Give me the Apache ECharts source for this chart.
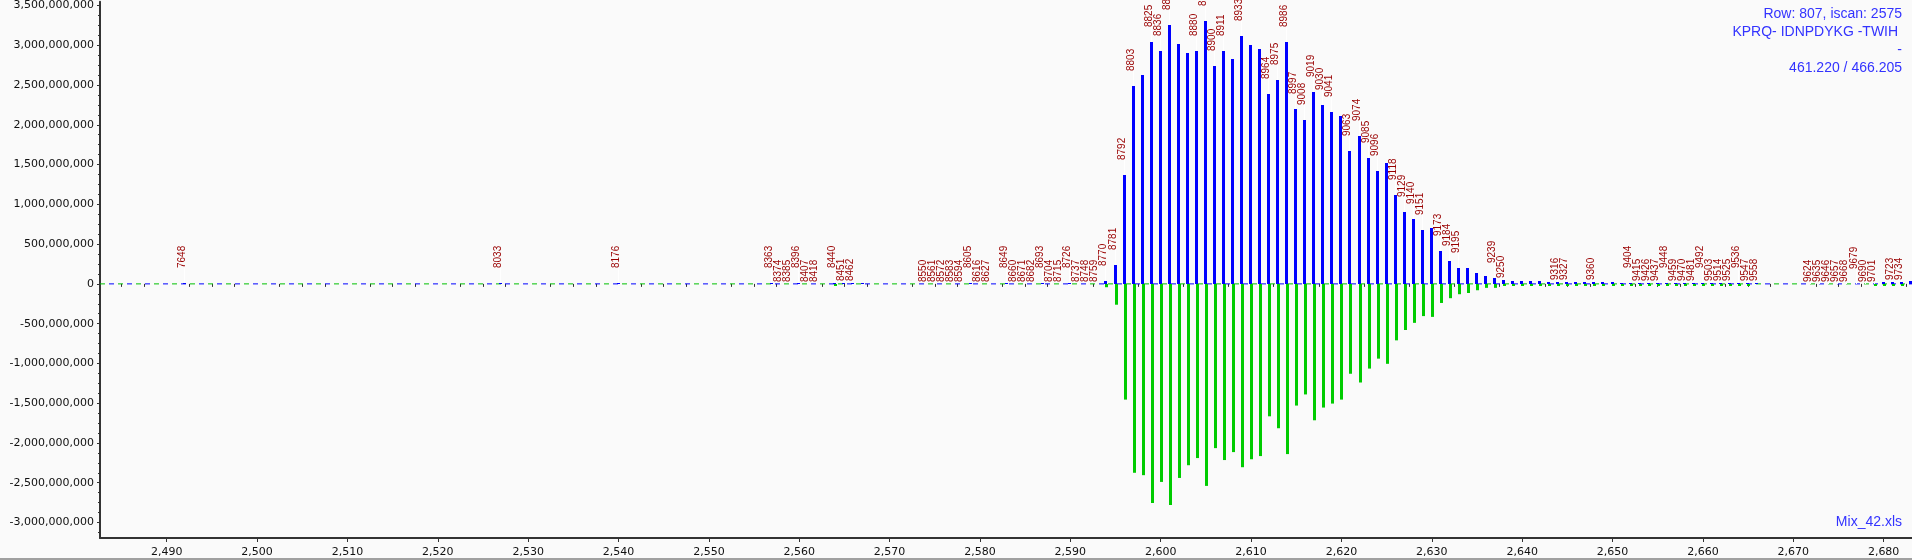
<!DOCTYPE html>
<html><head><meta charset="utf-8">
<script src="https://cdn.jsdelivr.net/npm/echarts@6/dist/echarts.min.js"></script>
<style>html,body{margin:0;padding:0;background:#fafafa;overflow:hidden}#c{width:1912px;height:560px}</style>
</head><body><div id="c"></div>
<script>
// ---- data (intensities in millions) ----
const UNIT = 1e6;
const times = [2492, 2527, 2540,
  2557,2558,2559,2560,2561,2562,2563,2564,2565,2566,2567,2568,2569,2570,2571,2572,2573,2574,2575,2576,2577,2578,2579,2580,2581,2582,2583,2584,2585,2586,2587,2588,2589,2590,2591,2592,2593,
  2594,2595,2596,2597,2598,2599,2600,2601,2602,2603,2604,2605,2606,2607,2608,2609,2610,2611,2612,2613,2614,2615,2616,2617,2618,2619,2620,2621,2622,2623,2624,2625,2626,2627,2628,2629,2630,2631,2632,2633,2634,2635,2636,2637,2638,2639,2640,2641,2642,2643,2644,2645,2646,2647,2648,2649,2650,2651,2652,2653,2654,2655,2656,2657,2658,2659,2660,2661,2662,2663,2664,2665,2666,2667,2668,2669,2670,2671,2672,2673,2674,2675,2676,2677,2678,2679,2680,2681,2682,2683];
const lightIntensity = [2, 2, 2,
  4,0,0,4,0,0,0,12,8,8,6,0,0,0,0,0,0,0,0,0,0,0,4,0,0,0,4,0,0,0,4,0,0,4,0,0,0,
  41,240,1370,2490,2630,3040,2925,3250,3010,2900,2930,3300,2740,2930,2830,3120,3000,2955,2390,2560,3040,2200,2055,2415,2250,2165,2105,1675,1865,1580,1415,1515,1115,900,810,675,705,410,290,205,195,135,95,77,55,41,33,30,30,28,28,25,22,20,20,18,18,15,15,15,12,12,12,10,10,10,10,8,8,8,8,6,6,0,0,0,0,0,0,0,0,0,0,0,0,0,20,20,25,35];
const heavyIntensity = [0, 0, 0,
  0,0,0,0,0,0,0,-10,0,0,0,0,0,0,0,0,0,0,0,0,0,0,0,0,0,0,0,0,0,0,0,0,0,0,0,0,0,
  -42,-262,-1455,-2375,-2405,-2755,-2490,-2780,-2440,-2280,-2190,-2540,-2065,-2215,-2115,-2305,-2205,-2165,-1665,-1815,-2140,-1530,-1390,-1715,-1555,-1505,-1455,-1130,-1240,-1065,-940,-1005,-710,-580,-490,-405,-415,-240,-180,-130,-115,-80,-50,-50,-25,-25,-22,-20,-20,-20,-20,-18,-18,-18,-15,-15,-15,-15,-15,-15,-15,-12,-12,-12,-12,-12,-12,-12,-10,-10,-10,-10,0,0,0,0,0,0,0,0,0,0,0,0,0,-15,-15,-15,-15];
const scanLabels = ['7648','8033','8176',
  '8363','8374','8385','8396','8407','8418','','8440','8451','8462','','','','','','','','8550','8561','8572','8583','8594','8605','8616','8627','','8649','8660','8671','8682','8693','8704','8715','8726','8737','8748','8759',
  '8770','8781','8792','8803','','8825','8836','8847','','','8880','8891','8900','8911','','8933','','','8964','8975','8986','8997','9008','9019','9030','9041','','9063','9074','9085','9096','','9118','9129','9140','9151','','9173','9184','9195','','','','9239','9250','','','','','','9316','9327','','','9360','','','','9404','9415','9426','9437','9448','9459','9470','9481','9492','9503','9514','9525','9536','9547','9558','','','','','','9624','9635','9646','9657','9668','9679','9690','9701','','9723','9734',''];
const raisedLabels = ['7648','8033','8176','8363','8396','8440','8605','8649','8693','8726','8770',
  '8781','8792','8803','8825','8836','8847','8880','8891','8900','8911','8933','8964','8975','8986','8997','9008','9019','9030','9041','9063','9074','9085','9096','9118','9129','9140','9151','9173','9184','9195','9239',
  '9404','9448','9492','9536','9679'];
const xTickLabels = [2490,2500,2510,2520,2530,2540,2550,2560,2570,2580,2590,2600,2610,2620,2630,2640,2650,2660,2670,2680];
const yTickLabels = [-3000,-2500,-2000,-1500,-1000,-500,0,500,1000,1500,2000,2500,3000,3500];
const infoLines = ['Row: 807, iscan: 2575', 'KPRQ- IDNPDYKG -TWIH ', '-', '461.220 / 466.205'];
const fileName = 'Mix_42.xls';

// ---- layout ----
const xMin = 2482.62, xMax = 2683.14;
const yMin = -3195 * UNIT, yMax = 3547 * UNIT;
const xMinor = []; for (let v = 2485; v <= 2682.5; v += 2.5) if (v % 10 !== 0) xMinor.push(v);
const yMajor = yTickLabels.map(v => v * UNIT);
const yMinor = []; for (let v = -3125; v <= 3500; v += 125) if (v % 500 !== 0) yMinor.push(v * UNIT);

const data = times.map((t, i) => [t, lightIntensity[i] * UNIT, heavyIntensity[i] * UNIT]);
const labelFont = '10px "Liberation Sans", Arial, sans-serif';

function renderPeak(params, api) {
  const i = params.dataIndex;
  const t = api.value(0), up = api.value(1), down = api.value(2);
  const base = api.coord([t, 0]);
  const cx = Math.round(base[0]);
  const y0 = Math.round(base[1]);
  const kids = [];
  if (down < 0) {
    const yg = api.coord([t, down])[1];
    kids.push({type: 'rect', shape: {x: cx - 1, y: y0, width: 3, height: Math.max(2, yg - y0)}, style: {fill: '#00cc00'}});
  }
  let top = y0;
  if (up > 0) {
    const yb = Math.round(api.coord([t, up])[1]);
    top = Math.min(yb, y0 - 1);
    if (y0 - top >= 1) kids.push({type: 'rect', shape: {x: cx - 2, y: top, width: 3, height: y0 - top}, style: {fill: '#0000ff'}});
  }
  const text = scanLabels[i];
  if (text) {
    const gap = raisedLabels.includes(text) ? 15 : 2;
    kids.push({type: 'line', shape: {x1: cx - 0.5, y1: top, x2: cx - 0.5, y2: top - gap}, style: {stroke: '#ffffff', lineWidth: 1}});
    kids.push({type: 'text', x: cx - 2.5, y: top - gap, rotation: Math.PI / 2,
      style: {text: text, font: labelFont, fill: '#990000', align: 'left', verticalAlign: 'middle'}});
  }
  return {type: 'group', children: kids};
}

const axisColor = '#333333';
const tickFont = {fontFamily: '"DejaVu Sans", Verdana, sans-serif', fontSize: 11, color: '#101010'};
const chart = echarts.init(document.getElementById('c'), null, {renderer: 'canvas'});
chart.setOption({
  backgroundColor: '#fafafa',
  animation: false,
  grid: {left: 100, right: 0, top: 0, bottom: 22, containLabel: false},
  xAxis: [{
    type: 'value', min: xMin, max: xMax,
    axisLine: {show: true, onZero: false, lineStyle: {color: axisColor, width: 2}},
    axisTick: {show: true, length: 4, customValues: xTickLabels, lineStyle: {color: axisColor}},
    axisLabel: {customValues: xTickLabels, margin: 9, formatter: v => v.toLocaleString('en-US'), ...tickFont},
    splitLine: {show: false}
  }, {
    type: 'value', min: xMin, max: xMax, position: 'bottom',
    axisLine: {show: false},
    axisTick: {show: true, length: 3, customValues: xMinor, lineStyle: {color: axisColor}},
    axisLabel: {show: false}, splitLine: {show: false}
  }],
  yAxis: [{
    type: 'value', min: yMin, max: yMax,
    axisLine: {show: true, onZero: false, lineStyle: {color: axisColor, width: 2}},
    axisTick: {show: true, length: 3, customValues: yMajor, lineStyle: {color: axisColor}},
    axisLabel: {customValues: yMajor, margin: 6, formatter: v => v.toLocaleString('en-US'), ...tickFont},
    splitLine: {show: false}
  }, {
    type: 'value', min: yMin, max: yMax, position: 'left',
    axisLine: {show: false},
    axisTick: {show: true, length: 2, customValues: yMinor, lineStyle: {color: axisColor}},
    axisLabel: {show: false}, splitLine: {show: false}
  }],
  series: [{
    type: 'line', xAxisIndex: 0, yAxisIndex: 0, silent: true, symbol: 'none',
    data: [[xMin, 0], [xMax, 0]],
    lineStyle: {color: '#00c000', width: 1, type: [5, 13], dashOffset: 0}, z: 1
  }, {
    type: 'line', xAxisIndex: 0, yAxisIndex: 0, silent: true, symbol: 'none',
    data: [[xMin, 0], [xMax, 0]],
    lineStyle: {color: '#0000ff', width: 1, type: [5, 13], dashOffset: 9}, z: 1
  }, {
    type: 'custom', xAxisIndex: 0, yAxisIndex: 0, renderItem: renderPeak,
    data: data, encode: {x: 0, y: [1, 2]}, clip: false, z: 2
  }],
  graphic: [
    ...infoLines.map((s, k) => ({type: 'text', x: 1902, y: 14 + k * 18,
      style: {text: s, font: '14px "Liberation Sans", Arial, sans-serif', fill: '#3333ff', align: 'right', verticalAlign: 'middle'}})),
    {type: 'text', x: 1902, y: 522, style: {text: fileName, font: '14px "Liberation Sans", Arial, sans-serif', fill: '#3333ff', align: 'right', verticalAlign: 'middle'}},
    {type: 'rect', shape: {x: 0, y: 558, width: 1912, height: 2}, style: {fill: '#a0a0a0'}}
  ]
});
</script></body></html>
